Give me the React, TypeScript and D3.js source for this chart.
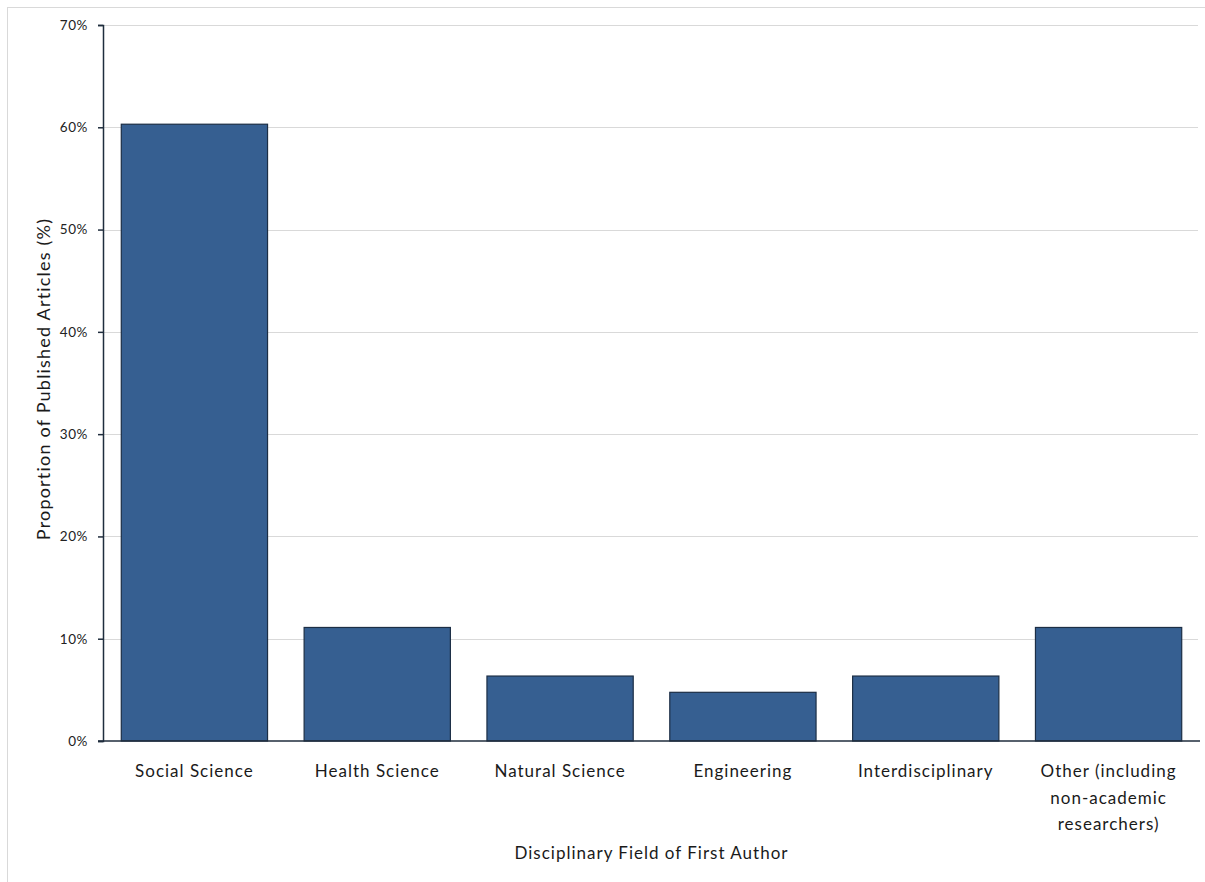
import React, { useEffect, useRef } from "react";
import * as d3 from "d3";

// Share of published articles by the first author's disciplinary field
const categories: string[][] = [
  ["Social Science"],
  ["Health Science"],
  ["Natural Science"],
  ["Engineering"],
  ["Interdisciplinary"],
  ["Other (including", "non-academic", "researchers)"],
];
const shares: number[] = [0.603, 0.111, 0.0635, 0.0476, 0.0635, 0.111];
const yTicks: number[] = [0, 0.1, 0.2, 0.3, 0.4, 0.5, 0.6, 0.7];

const W = 1205;
const H = 882;
const margin = { top: 25, right: 5, bottom: 141, left: 103 };
const FONT = "Lato, 'Open Sans', sans-serif";

export default function App() {
  const ref = useRef<SVGSVGElement | null>(null);

  useEffect(() => {
    const svg = d3.select(ref.current);
    svg.selectAll("*").remove();

    const innerW = W - margin.left - margin.right;
    const innerH = H - margin.top - margin.bottom;

    // outer frame (only top and left edges fall inside the view)
    svg
      .append("rect")
      .attr("x", 7.5)
      .attr("y", 7.5)
      .attr("width", W + 20)
      .attr("height", H + 20)
      .attr("fill", "none")
      .attr("stroke", "#d9d9d9")
      .attr("stroke-width", 1);

    const g = svg
      .append("g")
      .attr("transform", `translate(${margin.left},${margin.top})`);

    const x = d3
      .scaleBand<number>()
      .domain(d3.range(categories.length))
      .range([0, innerW])
      .paddingInner(0.2)
      .paddingOuter(0.1);

    const y = d3.scaleLinear().domain([0, 0.7]).range([innerH, 0]);

    // horizontal gridlines
    g.append("g")
      .selectAll("line")
      .data(yTicks.filter((t) => t > 0))
      .join("line")
      .attr("x1", 0)
      .attr("x2", innerW - 2)
      .attr("y1", (d) => Math.round(y(d)) + 0.5)
      .attr("y2", (d) => Math.round(y(d)) + 0.5)
      .attr("stroke", "#d9d9d9")
      .attr("stroke-width", 1.2);

    // bars
    g.append("g")
      .selectAll("rect")
      .data(shares)
      .join("rect")
      .attr("x", (_, i) => x(i)!)
      .attr("y", (d) => y(d))
      .attr("width", x.bandwidth())
      .attr("height", (d) => innerH - y(d))
      .attr("fill", "#365f91")
      .attr("stroke", "#1c2e45")
      .attr("stroke-width", 1.2);

    // y axis
    const yAxis = d3
      .axisLeft(y)
      .tickValues(yTicks)
      .tickSize(5)
      .tickPadding(10)
      .tickFormat((d) => `${Math.round((d as number) * 100)}%`);
    const ya = g.append("g").call(yAxis);
    ya.select(".domain").attr("stroke", "#1f2d3d").attr("stroke-width", 1.5);
    ya.selectAll(".tick line").attr("stroke", "#1f2d3d").attr("stroke-width", 1.5);
    ya.selectAll(".tick text")
      .attr("font-family", FONT)
      .attr("font-size", 13.5)
      .attr("letter-spacing", 0.6)
      .attr("fill", "#222");

    // x baseline
    g.append("line")
      .attr("x1", -5)
      .attr("x2", innerW)
      .attr("y1", innerH)
      .attr("y2", innerH)
      .attr("stroke", "#1f2d3d")
      .attr("stroke-width", 1.5);

    // category labels
    const labels = g
      .append("g")
      .selectAll("text")
      .data(categories)
      .join("text")
      .attr("x", (_, i) => x(i)! + x.bandwidth() / 2)
      .attr("y", innerH + 36)
      .attr("text-anchor", "middle")
      .attr("font-family", FONT)
      .attr("font-size", 17)
      .attr("letter-spacing", 1)
      .attr("fill", "#1a1a1a");
    labels
      .selectAll("tspan")
      .data((d) => d)
      .join("tspan")
      .attr("x", function () {
        return (this.parentNode as SVGTextElement).getAttribute("x");
      })
      .attr("dy", (_, j) => (j === 0 ? 0 : 26.5))
      .text((d) => d);

    // axis titles
    svg
      .append("text")
      .attr("x", margin.left + innerW / 2)
      .attr("y", 859)
      .attr("text-anchor", "middle")
      .attr("font-family", FONT)
      .attr("font-size", 17)
      .attr("letter-spacing", 1)
      .attr("fill", "#1a1a1a")
      .text("Disciplinary Field of First Author");

    svg
      .append("text")
      .attr("transform", `translate(50,${379}) rotate(-90)`)
      .attr("text-anchor", "middle")
      .attr("font-family", FONT)
      .attr("font-size", 18)
      .attr("letter-spacing", 1.2)
      .attr("fill", "#1a1a1a")
      .text("Proportion  of Published Articles (%)");
  }, []);

  return (
    <div style={{ position: "absolute", left: 0, top: 0 }}>
      <svg ref={ref} width={W} height={H} style={{ display: "block", background: "#fff" }} />
    </div>
  );
}
